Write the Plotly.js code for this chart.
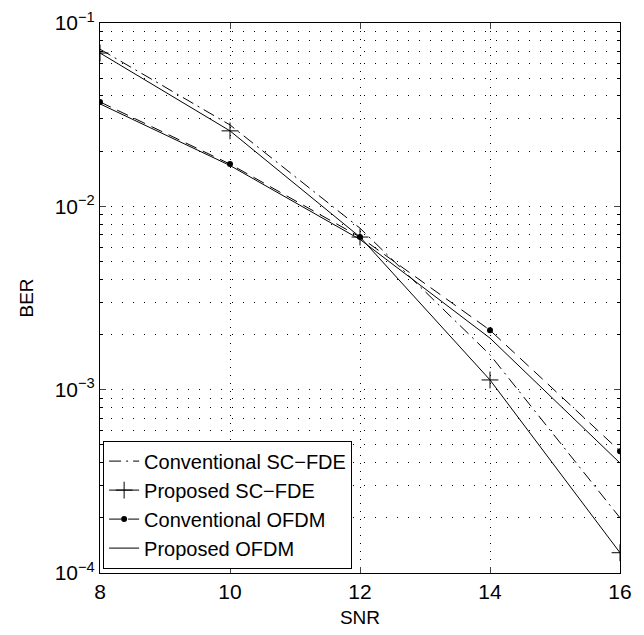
<!DOCTYPE html>
<html><head><meta charset="utf-8">
<script src="https://cdn.plot.ly/plotly-3.0.1.min.js"></script>
<style>body{margin:0;background:#fff}#chart{width:644px;height:635px}</style>
</head><body><div id="chart"></div>
<script>
const snr = [8, 10, 12, 14, 16];
const convSCFDE = [0.072, 0.0278, 0.0076, 0.00155, 0.000200];
const propSCFDE = [0.0686, 0.0258, 0.0068, 0.00113, 0.000129];
const convOFDM = [0.0371, 0.0170, 0.0068, 0.00211, 0.000462];
const propOFDM = [0.0362, 0.0167, 0.0066, 0.00191, 0.000398];
const yTickVals = [1e-4, 1e-3, 1e-2, 1e-1];
const yTickText = ['10<sup>−4</sup>', '10<sup>−3</sup>', '10<sup>−2</sup>', '10<sup>−1</sup>'];
const xTickVals = [8, 10, 12, 14, 16];

const font = 'Liberation Sans, Arial, sans-serif';
const traces = [
  {x: snr, y: convSCFDE, name: 'Conventional SC−FDE', mode: 'lines',
   line: {color: '#000', width: 1, dash: '12px,5px,2px,5px'}},
  {x: snr, y: propSCFDE, name: 'Proposed SC−FDE', mode: 'lines+markers',
   line: {color: '#000', width: 1},
   marker: {symbol: 'cross-thin', size: 12, line: {color: '#000', width: 1}}},
  {x: snr, y: convOFDM, name: 'Conventional OFDM', mode: 'lines+markers',
   line: {color: '#000', width: 1, dash: '12px,7px'},
   marker: {symbol: 'circle', size: 6, color: '#000'}},
  {x: snr, y: propOFDM, name: 'Proposed OFDM', mode: 'lines',
   line: {color: '#000', width: 1}}
];
const layout = {
  width: 644, height: 635,
  margin: {l: 100, r: 24, t: 23, b: 62},
  paper_bgcolor: '#fff', plot_bgcolor: '#fff',
  font: {family: font, size: 21, color: '#000'},
  showlegend: true,
  legend: {x: 0.006, y: 0.008, xanchor: 'left', yanchor: 'bottom',
    bgcolor: '#fff', bordercolor: '#000', borderwidth: 1,
    font: {family: font, size: 20, color: '#000'}, tracegroupgap: 0},
  xaxis: {range: [8, 16], tickvals: xTickVals, ticks: 'inside', ticklen: 6,
    showline: true, mirror: 'ticks', linecolor: '#000', linewidth: 1,
    showgrid: true, gridcolor: '#000', gridwidth: 1, griddash: '1px,7px',
    zeroline: false, tickfont: {family: font, size: 21},
    title: {text: 'SNR', font: {family: font, size: 19}, standoff: 8}},
  yaxis: {type: 'log', range: [-4, -1], tickvals: yTickVals, ticktext: yTickText,
    ticks: 'inside', ticklen: 6, tickfont: {family: font, size: 21},
    showline: true, mirror: 'ticks', linecolor: '#000', linewidth: 1,
    showgrid: true, gridcolor: '#000', gridwidth: 1, griddash: '1px,10px',
    zeroline: false,
    minor: {dtick: 'D1', ticks: 'inside', ticklen: 3, showgrid: true,
      gridcolor: '#000', gridwidth: 1, griddash: '1px,10px', tickcolor: '#000'},
    title: {text: 'BER', font: {family: font, size: 19}, standoff: 16}}
};
Plotly.newPlot('chart', traces, layout, {displayModeBar: false, staticPlot: true});
</script></body></html>
